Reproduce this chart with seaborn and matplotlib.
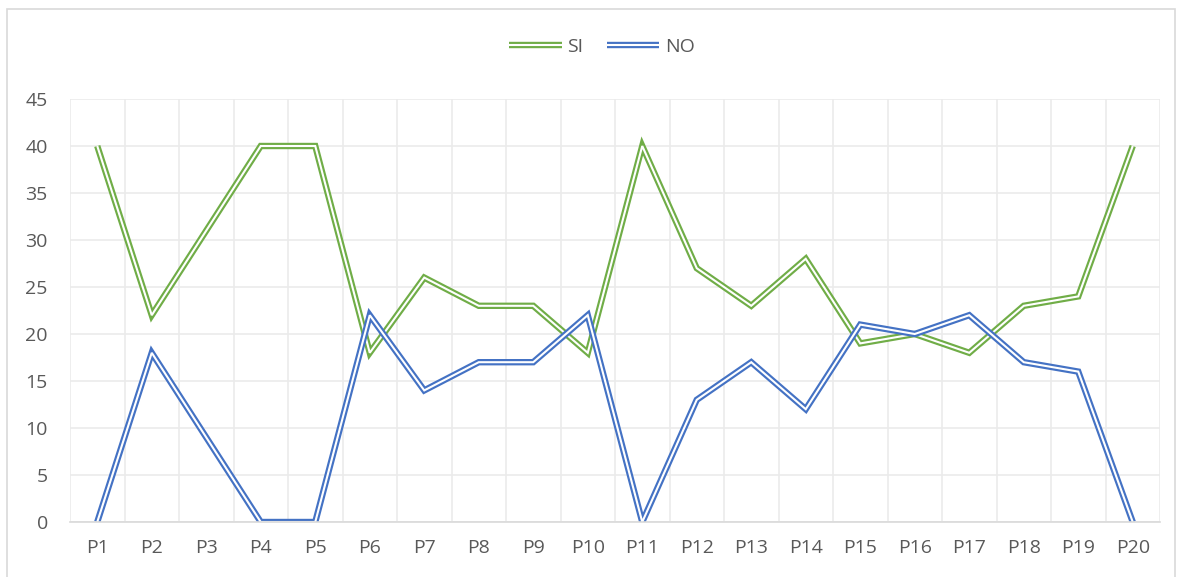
import matplotlib
matplotlib.use("Agg")
import matplotlib.pyplot as plt
import matplotlib.patheffects as pe
from matplotlib.patches import Rectangle
import seaborn as sns
import pandas as pd

categories = [f"P{i}" for i in range(1, 21)]
si_values = [40, 22, 31, 40, 40, 18, 26, 23, 23, 18, 40, 27, 23, 28, 19, 20, 18, 23, 24, 40]
no_values = [0, 18, 9, 0, 0, 22, 14, 17, 17, 22, 0, 13, 17, 12, 21, 20, 22, 17, 16, 0]
series_names = ["SI", "NO"]
colors = {"SI": "#70AD47", "NO": "#4472C4"}

df = pd.DataFrame({
    "cat": categories * 2,
    "x": list(range(len(categories))) * 2,
    "value": si_values + no_values,
    "series": ["SI"] * len(categories) + ["NO"] * len(categories),
})

sns.set_theme(style="white")
plt.rcParams["font.family"] = ["Open Sans", "DejaVu Sans"]

fig = plt.figure(figsize=(11.82, 5.77), dpi=100)
ax = fig.add_axes([70 / 1182, 55 / 577, 1090 / 1182, 423 / 577])

sns.lineplot(data=df, x="x", y="value", hue="series", hue_order=series_names,
             palette=colors, linewidth=4.6, ax=ax, sort=False,
             solid_capstyle="butt", solid_joinstyle="miter")

for line in ax.get_lines():
    line.set_path_effects([pe.Normal(),
                           pe.Stroke(linewidth=1.5, foreground="white",
                                     capstyle="butt", joinstyle="miter")])

ax.set_xlim(-0.5, len(categories) - 0.5)
ax.set_ylim(0, 45)
ax.set_yticks(range(0, 46, 5))
ax.set_xticks(range(len(categories)))
ax.set_xticklabels(categories)
ax.set_xticks([i - 0.5 for i in range(len(categories) + 1)], minor=True)
ax.grid(False)
ax.grid(which="major", axis="y", color="#EBEBEB", linewidth=1.2)
ax.grid(which="minor", axis="x", color="#EBEBEB", linewidth=1.2)
ax.set_axisbelow(True)
for s in ["top", "right", "left"]:
    ax.spines[s].set_visible(False)
ax.spines["bottom"].set_color("#D9D9D9")
ax.spines["bottom"].set_linewidth(1.2)
ax.tick_params(axis="both", which="both", length=0, labelsize=14, colors="#595959")
ax.tick_params(axis="x", pad=12)
ax.tick_params(axis="y", pad=16)
ax.set_xlabel("")
ax.set_ylabel("")

handles, labels = ax.get_legend_handles_labels()
if ax.get_legend() is not None:
    ax.get_legend().remove()
leg = fig.legend(handles, labels, loc="center", bbox_to_anchor=(602 / 1182, 1 - 47 / 577),
                 ncol=2, frameon=False, fontsize=14, handlelength=2.7,
                 handletextpad=0.3, columnspacing=1.2)
for t in leg.get_texts():
    t.set_color("#595959")

fig.add_artist(Rectangle((7 / 1182, -0.05), 1168 / 1182, 1.05 - 9 / 577,
                         transform=fig.transFigure, fill=False,
                         edgecolor="#D9D9D9", linewidth=1.2))

fig.savefig("out.png", dpi=100)
